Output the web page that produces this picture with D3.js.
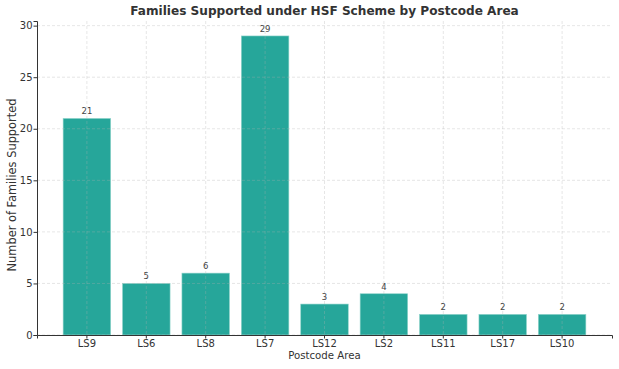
<!DOCTYPE html>
<html>
<head>
<meta charset="utf-8">
<script src="https://cdn.jsdelivr.net/npm/d3@7"></script>
<style>
  body { margin: 0; background: #fff; }
  text { font-family: "DejaVu Sans", sans-serif; }
</style>
</head>
<body>
<div id="chart"></div>
<script>
var postcodes = ["LS9", "LS6", "LS8", "LS7", "LS12", "LS2", "LS11", "LS17", "LS10"];
var families = [21, 5, 6, 29, 3, 4, 2, 2, 2];
var yTicks = [0, 5, 10, 15, 20, 25, 30];

var width = 619, height = 369;
var margin = {top: 21, right: 7, bottom: 34, left: 37};

var svg = d3.select("#chart").append("svg")
    .attr("width", width)
    .attr("height", height);

var x = d3.scaleBand()
    .domain(postcodes)
    .range([margin.left, width - margin.right])
    .paddingInner(0.2)
    .paddingOuter(0.44);

var y = d3.scaleLinear()
    .domain([0, 30.45])
    .range([height - margin.bottom, margin.top]);

var data = postcodes.map(function(p, i){ return {code: p, value: families[i]}; });

// bars
svg.append("g").selectAll("rect")
    .data(data)
    .enter()
    .append("rect")
    .attr("x", function(d){ return x(d.code); })
    .attr("y", function(d){ return y(d.value); })
    .attr("width", x.bandwidth())
    .attr("height", function(d){ return y(0) - y(d.value); })
    .attr("fill", "#26a69a")
    .attr("stroke", "#8fd3cb")
    .attr("stroke-width", 0.6);

// grid (drawn over bars)
var grid = svg.append("g").attr("stroke", "#b0b0b0").attr("stroke-opacity", 0.4)
    .attr("stroke-dasharray", "3,2").attr("stroke-width", 0.8);
grid.selectAll(".hg").data(yTicks).enter().append("line")
    .attr("x1", margin.left).attr("x2", width - margin.right)
    .attr("y1", function(d){ return y(d); }).attr("y2", function(d){ return y(d); });
grid.selectAll(".vg").data(postcodes).enter().append("line")
    .attr("x1", function(d){ return x(d) + x.bandwidth()/2; })
    .attr("x2", function(d){ return x(d) + x.bandwidth()/2; })
    .attr("y1", margin.top).attr("y2", height - margin.bottom);

// value labels
svg.append("g").selectAll("text")
    .data(data)
    .enter()
    .append("text")
    .attr("x", function(d){ return x(d.code) + x.bandwidth()/2; })
    .attr("y", function(d){ return y(d.value) - 4; })
    .attr("text-anchor", "middle")
    .attr("font-size", "8.5px")
    .attr("fill", "#444")
    .text(function(d){ return d.value; });

// axes
var xAxis = svg.append("g")
    .attr("transform", "translate(0," + (height - margin.bottom) + ")")
    .call(d3.axisBottom(x).tickSizeOuter(0).tickSize(3.5).tickPadding(1));
var yAxis = svg.append("g")
    .attr("transform", "translate(" + margin.left + ",0)")
    .call(d3.axisLeft(y).tickValues(yTicks).tickSizeOuter(0).tickSize(3.5).tickPadding(1));

[xAxis, yAxis].forEach(function(a){
    a.select(".domain").attr("stroke", "#333").attr("stroke-width", 1);
    a.selectAll(".tick line").attr("stroke", "#333");
    a.selectAll(".tick text").attr("fill", "#333").attr("font-size", "10px")
        .style("font-family", "DejaVu Sans, sans-serif");
});

// titles
svg.append("text")
    .attr("x", (margin.left + width - margin.right)/2)
    .attr("y", 15)
    .attr("text-anchor", "middle")
    .attr("font-size", "12.1px")
    .attr("font-weight", "bold")
    .attr("fill", "#333")
    .text("Families Supported under HSF Scheme by Postcode Area");

svg.append("text")
    .attr("x", (margin.left + width - margin.right)/2)
    .attr("y", 359)
    .attr("text-anchor", "middle")
    .attr("font-size", "10.2px")
    .attr("fill", "#333")
    .text("Postcode Area");

svg.append("text")
    .attr("transform", "translate(16,185) rotate(-90)")
    .attr("text-anchor", "middle")
    .attr("font-size", "11.4px")
    .attr("fill", "#333")
    .text("Number of Families Supported");
</script>
</body>
</html>
